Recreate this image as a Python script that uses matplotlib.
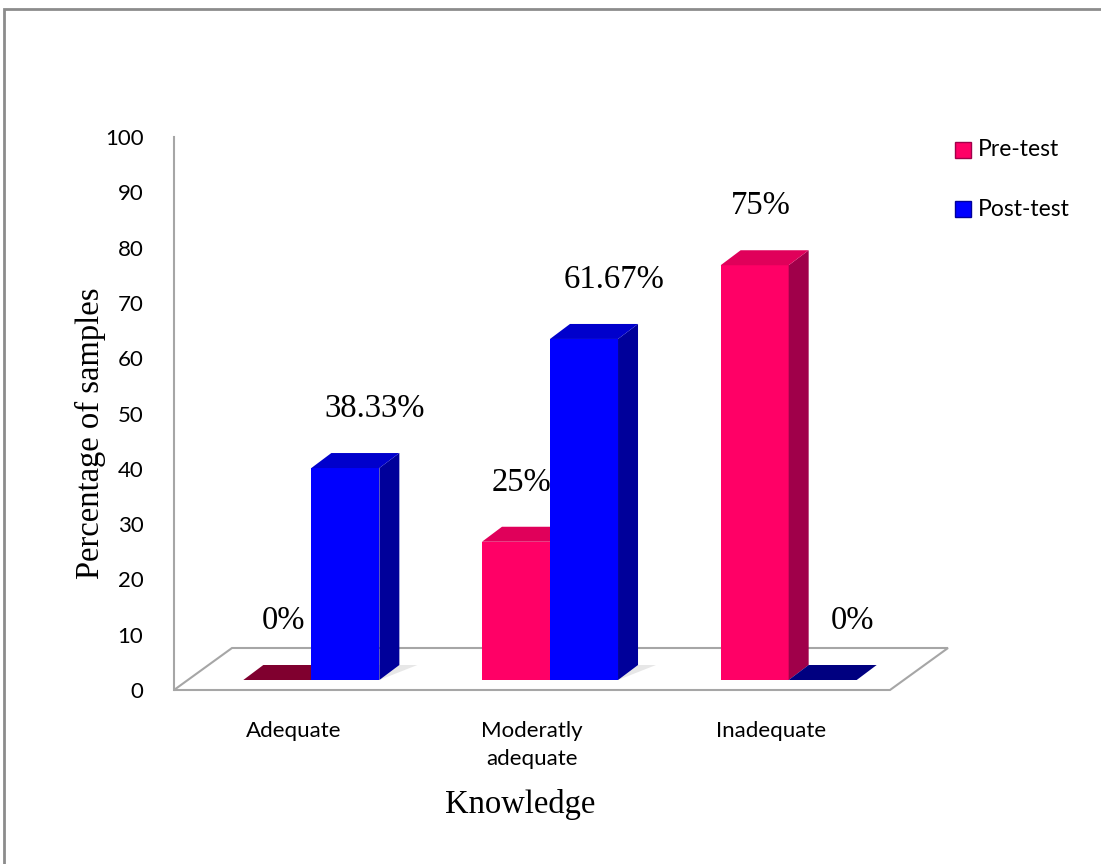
import matplotlib.pyplot as plt
from matplotlib.patches import Polygon, Rectangle

categories = ['Adequate', 'Moderatly\nadequate', 'Inadequate']
pre_test = [0, 25, 75]
post_test = [38.33, 61.67, 0]
pre_labels = ['0%', '25%', '75%']
post_labels = ['38.33%', '61.67%', '0%']
yticks = [0, 10, 20, 30, 40, 50, 60, 70, 80, 90, 100]

# colours: front, side, top, flat (zero height)
pink = ['#FF0066', '#A0004A', '#E0005A', '#80002F']
blue = ['#0000FF', '#00009A', '#0000CC', '#000080']

W, H = 1101, 864
fig = plt.figure(figsize=(W / 100, H / 100), dpi=100)
ax_l, ax_b, ax_w, ax_h = 174 / W, 174 / H, 716 / W, 553 / H
ax = fig.add_axes([ax_l, ax_b, ax_w, ax_h])
ax.set_xlim(-0.5, 2.5)
ax.set_ylim(0, 100)

# data units per pixel, for the fake 3d depth
sx = 3 / (ax_w * W)
sy = 100 / (ax_h * H)
F = (18, 10)   # bar front plane
B = (38, 25)   # bar back plane
FL = (58, 42)  # floor back edge


def pt(x, y, off):
    return (x + off[0] * sx, y + off[1] * sy)


def add(poly, **kw):
    ax.add_patch(Polygon(poly, closed=True, clip_on=False, **kw))


# floor
add([pt(-0.5, 0, (0, 0)), pt(2.5, 0, (0, 0)), pt(2.5, 0, FL), pt(-0.5, 0, FL)],
    facecolor='white', edgecolor='#A6A6A6', lw=1.5, zorder=1)


def bar(x0, x1, h, col):
    if h == 0:
        add([pt(x0, 0, F), pt(x1, 0, F), pt(x1, 0, B), pt(x0, 0, B)],
            facecolor=col[3], edgecolor='none', zorder=3)
        return
    # soft shadow on the floor
    add([pt(x0, 0, F), pt(x1, 0, F), pt(x1, 0, (B[0] + 18, B[1])), pt(x0, 0, (B[0] + 18, B[1]))],
        facecolor='#BBBBBB', edgecolor='none', alpha=0.35, zorder=2)
    add([pt(x0, 0, F), pt(x1, 0, F), pt(x1, h, F), pt(x0, h, F)],
        facecolor=col[0], edgecolor='none', zorder=3)
    add([pt(x1, 0, F), pt(x1, 0, B), pt(x1, h, B), pt(x1, h, F)],
        facecolor=col[1], edgecolor='none', zorder=3)
    add([pt(x0, h, F), pt(x1, h, F), pt(x1, h, B), pt(x0, h, B)],
        facecolor=col[2], edgecolor='none', zorder=3)


bw = 0.285
serif = 'Liberation Serif'
for i in range(len(categories)):
    bar(i - bw, i, pre_test[i], pink)
    bar(i, i + bw, post_test[i], blue)
    ax.text(i - bw / 2 + 0.1, pre_test[i] + 12.5, pre_labels[i], ha='center', va='center',
            fontsize=23.5, family=serif, zorder=5)
    ax.text(i + bw / 2 + 0.2, post_test[i] + 12.5, post_labels[i], ha='center', va='center',
            fontsize=23.5, family=serif, zorder=5)

for s in ['top', 'right', 'bottom']:
    ax.spines[s].set_visible(False)
ax.spines['left'].set_color('#A6A6A6')
ax.spines['left'].set_linewidth(1.5)
ax.set_facecolor('none')
ax.set_yticks(yticks)
ax.set_yticklabels([str(t) for t in yticks], family='Lato', fontsize=16)
ax.set_xticks(range(len(categories)))
ax.set_xticklabels(categories, family='Lato', fontsize=16, linespacing=1.5)
ax.tick_params(length=0)
ax.tick_params(axis='y', pad=22)
ax.tick_params(axis='x', pad=22)
ax.set_ylabel('Percentage of samples', family=serif, fontsize=23.5)
ax.set_xlabel('Knowledge', family=serif, fontsize=23.5)
ax.yaxis.set_label_coords((90 - 174) / 716, (690 - 433) / 553)
ax.xaxis.set_label_coords((520 - 174) / 716, -(805 - 690) / 553)
ax.xaxis.label.set_va('center')
ax.yaxis.label.set_va('center')

# legend drawn by hand
for j, (name, col) in enumerate([('Pre-test', pink), ('Post-test', blue)]):
    yc = (H - 150 - 59 * j) / H
    fig.patches.append(Rectangle((955 / W, yc - 8 / H), 16 / W, 16 / H, transform=fig.transFigure,
                                 facecolor=col[0], edgecolor=col[1], lw=1))
    fig.text(978 / W, yc, name, family='Lato', fontsize=16.5, va='center', ha='left')

# outer frame
fig.patches.append(Rectangle((4 / W, -0.05), 1.2, (H - 9) / H + 0.05, transform=fig.transFigure,
                             facecolor='none', edgecolor='#8C8C8C', lw=2))

fig.savefig('out.png', dpi=100)
